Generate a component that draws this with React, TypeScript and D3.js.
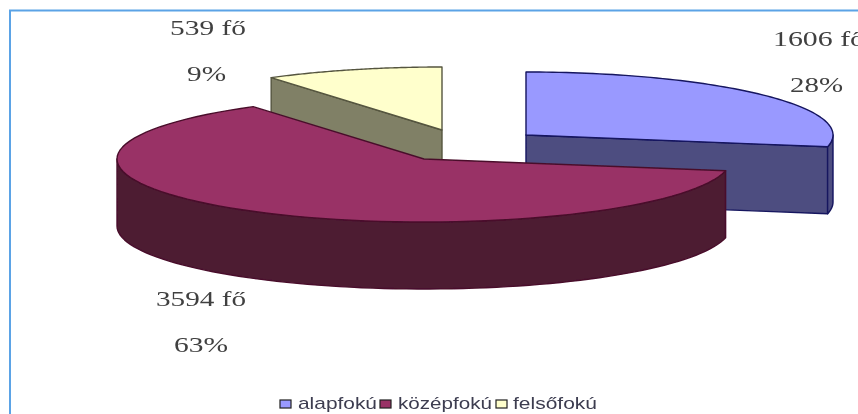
import React from "react";
import * as d3 from "d3";

const categories = ["alapfokú", "középfokú", "felsőfokú"];
const counts = [1606, 3594, 539];
const percentLabels = ["28%", "63%", "9%"];
const countLabels = ["1606 fő", "3594 fő", "539 fő"];

const W = 858, H = 414;
const RX = 307, RY = 63, DEPTH = 67;
const apex: [number, number][] = [[526, 135], [424, 159], [442, 130]];
const topFill = ["#9999ff", "#993366", "#ffffcc"];
const wallFill = ["#4d4d80", "#4d1a33", "#808066"];
const edge = ["#14145e", "#4a0f2c", "#55553f"];
const drawOrder = [2, 0, 1];

const countPos = [{ x: 773, y: 46, w: 92 }, { x: 156, y: 306, w: 90 }, { x: 170, y: 35, w: 76 }];
const pctPos = [{ x: 790, y: 92, w: 53 }, { x: 174, y: 352, w: 54 }, { x: 187, y: 81, w: 39 }];
const legendSwatchX = [280, 380, 496];
const legendTextX = [298, 398, 513];
const legendTextW = [79, 94, 84];

const arcs = d3.pie<number>().sort(null).value((d) => d)(counts);
const line = d3.line<[number, number]>();

function pt(i: number, a: number, dy = 0): [number, number] {
  return [apex[i][0] + RX * Math.sin(a), apex[i][1] - RY * Math.cos(a) + dy];
}
function sweep(i: number, a0: number, a1: number, dy = 0): [number, number][] {
  const n = 80;
  return d3.range(n + 1).map((k) => pt(i, a0 + ((a1 - a0) * k) / n, dy));
}
const closed = (p: [number, number][]) => line(p) + "Z";

function Slice({ i }: { i: number }) {
  const { startAngle: a0, endAngle: a1 } = arcs[i];
  const [ax, ay] = apex[i];
  const walls: string[] = [];
  if (i === 0) walls.push(closed([[ax, ay], pt(i, a1), pt(i, a1, DEPTH), [ax, ay + DEPTH]]));
  if (i === 2) walls.push(closed([pt(i, a0), [ax, ay], [ax, ay + DEPTH], pt(i, a0, DEPTH)]));
  const from = Math.max(a0, Math.PI / 2);
  const to = Math.min(a1, (3 * Math.PI) / 2);
  if (from < to && i !== 2) {
    const top = sweep(i, from, to);
    const bottom = sweep(i, from, to, DEPTH).reverse();
    walls.push(closed([...top, ...bottom]));
  }
  const topPath = closed([[ax, ay], ...sweep(i, a0, a1)]);
  return (
    <g strokeLinejoin="round">
      {walls.map((d, k) => (
        <path key={k} d={d} fill={wallFill[i]} stroke={edge[i]} strokeWidth={1.4} />
      ))}
      <path d={topPath} fill={topFill[i]} stroke={edge[i]} strokeWidth={1.4} />
    </g>
  );
}

export default function App() {
  return (
    <svg
      width={W}
      height={H}
      viewBox={`0 0 ${W} ${H}`}
      style={{ position: "absolute", left: 0, top: 0, background: "#fff" }}
    >
      <defs>
        <filter id="soft" x="-5%" y="-5%" width="110%" height="110%">
          <feGaussianBlur stdDeviation="0.5" />
        </filter>
      </defs>
      <path d={`M10 ${H}V10.5H${W}`} fill="none" stroke="#5ba3e6" strokeWidth={2} />
      <g filter="url(#soft)">
        {drawOrder.map((i) => (
          <Slice key={i} i={i} />
        ))}
        <g fontFamily="'Liberation Serif', serif" fontSize={22} fill="#404040">
          {countLabels.map((t, i) => (
            <text key={t} x={countPos[i].x} y={countPos[i].y} textLength={countPos[i].w} lengthAdjust="spacingAndGlyphs">
              {t}
            </text>
          ))}
          {percentLabels.map((t, i) => (
            <text key={t} x={pctPos[i].x} y={pctPos[i].y} textLength={pctPos[i].w} lengthAdjust="spacingAndGlyphs">
              {t}
            </text>
          ))}
        </g>
        <g fontFamily="'Liberation Sans', sans-serif" fontSize={17} fill="#3c3c50">
          {categories.map((c, i) => (
            <g key={c}>
              <rect x={legendSwatchX[i]} y={400} width={11} height={8} fill={topFill[i]} stroke="#222" strokeWidth={1.2} />
              <text x={legendTextX[i]} y={409} textLength={legendTextW[i]} lengthAdjust="spacingAndGlyphs">
                {c}
              </text>
            </g>
          ))}
        </g>
      </g>
    </svg>
  );
}
